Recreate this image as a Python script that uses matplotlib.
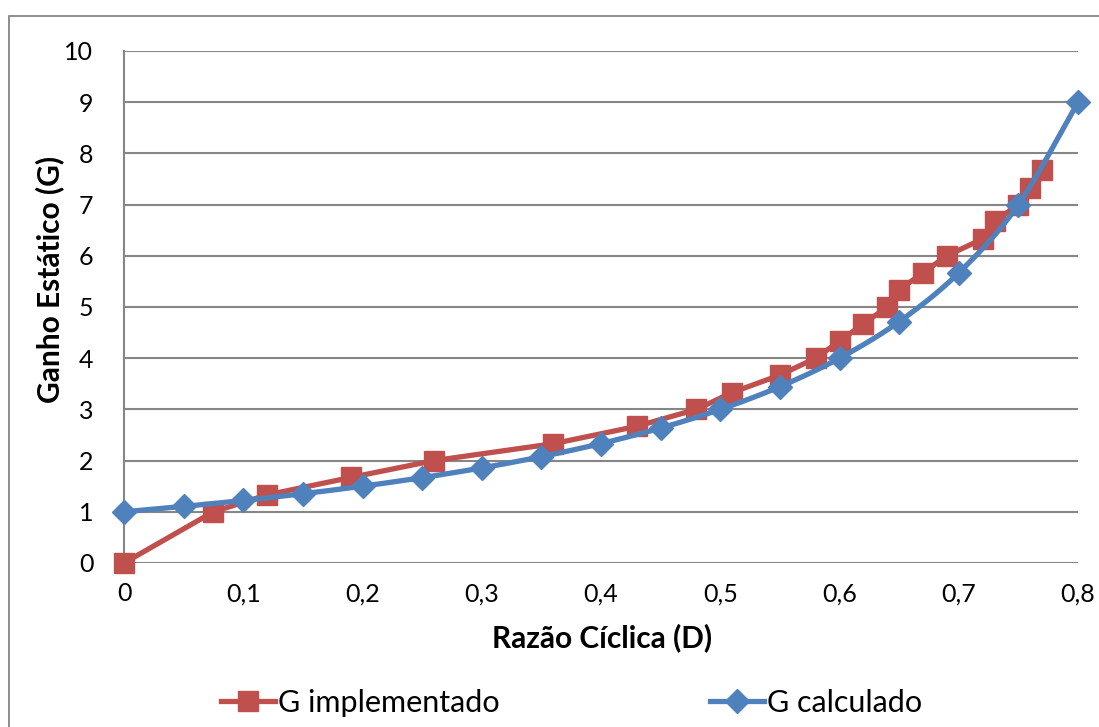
import numpy as np
import matplotlib.pyplot as plt
from matplotlib.lines import Line2D
from matplotlib.patches import Rectangle
from matplotlib.ticker import FuncFormatter

plt.rcParams['font.family'] = ['Lato', 'DejaVu Sans']

# G implementado (medido)
d_impl = [0, 0.075, 0.12, 0.19, 0.26, 0.36, 0.43, 0.48, 0.51, 0.55, 0.58,
          0.60, 0.62, 0.64, 0.65, 0.67, 0.69, 0.72, 0.73, 0.75, 0.76, 0.77]
g_impl = [0, 1, 1.33, 1.67, 2, 2.33, 2.67, 3, 3.33, 3.67, 4,
          4.33, 4.67, 5, 5.33, 5.67, 6, 6.33, 6.67, 7, 7.33, 7.67]

# G calculado
d_calc = [0, 0.05, 0.1, 0.15, 0.2, 0.25, 0.3, 0.35, 0.4, 0.45, 0.5,
          0.55, 0.6, 0.65, 0.7, 0.75, 0.8]
g_calc = [1, 1.105, 1.222, 1.353, 1.5, 1.667, 1.857, 2.077, 2.333, 2.636, 3,
          3.444, 4, 4.714, 5.667, 7, 9]

red = '#C0504D'
blue = '#4F81BD'
grid = '#868686'


# linha suavizada estilo Excel (Catmull-Rom)
def suavizar(x, y, n=25):
    p = np.column_stack([x, y]).astype(float)
    p = np.vstack([2 * p[0] - p[1], p, 2 * p[-1] - p[-2]])
    t = np.linspace(0, 1, n)[:, None]
    out = []
    for i in range(1, len(p) - 2):
        p0, p1, p2, p3 = p[i - 1], p[i], p[i + 1], p[i + 2]
        seg = 0.5 * ((2 * p1) + (-p0 + p2) * t + (2 * p0 - 5 * p1 + 4 * p2 - p3) * t ** 2
                     + (-p0 + 3 * p1 - 3 * p2 + p3) * t ** 3)
        out.append(seg)
    out = np.vstack(out)
    return out[:, 0], out[:, 1]


fig = plt.figure(figsize=(10.99, 7.27), dpi=100)
ax = fig.add_axes([124 / 1099, 1 - 563 / 727, (1078 - 124) / 1099, (563 - 51) / 727])

# moldura externa
fig.patches.append(Rectangle((9 / 1099, -0.1), 1.2, 1 - 16 / 727 + 0.1,
                             transform=fig.transFigure, fill=False,
                             edgecolor=grid, lw=1.3))

ax.plot(d_impl, g_impl, color=red, lw=3.8, marker='s', ms=14,
        mec=red, mfc=red, clip_on=False, zorder=3)
xs, ys = suavizar(d_calc, g_calc)
ax.plot(xs, ys, color=blue, lw=3.8, clip_on=False, zorder=4)
ax.plot(d_calc, g_calc, ls='none', marker='D', ms=12.5, color=blue,
        clip_on=False, zorder=5)

ax.set_xlim(0, 0.8)
ax.set_ylim(0, 10)
ax.set_xticks(np.arange(0, 0.81, 0.1))
ax.set_yticks(range(0, 11))
ax.xaxis.set_major_formatter(FuncFormatter(lambda v, p: '0' if v == 0 else f'{v:.1f}'.replace('.', ',')))
ax.yaxis.grid(True, color=grid, lw=1.5)
ax.set_axisbelow(True)
for s in ['top', 'right', 'bottom']:
    ax.spines[s].set_visible(False)
ax.spines['left'].set_color(grid)
ax.spines['left'].set_linewidth(1.5)
ax.tick_params(length=0, labelsize=18, pad=14)
ax.tick_params(axis='y', pad=22)

ax.set_xlabel('Razão Cíclica (D)', fontsize=21.5, fontweight='bold')
ax.set_ylabel('Ganho Estático (G)', fontsize=21.5, fontweight='bold')
ax.xaxis.set_label_coords(0.501, -0.118)
ax.yaxis.set_label_coords(-0.063, 0.553)

handles = [Line2D([], [], color=red, lw=3.8, marker='s', ms=14),
           Line2D([], [], color=blue, lw=3.8, marker='D', ms=12.5)]
fig.legend(handles, ['G implementado', 'G calculado'], loc='center',
           bbox_to_anchor=(0.52, 1 - 703 / 727), ncol=2, frameon=False,
           fontsize=22, handlelength=1.75, handletextpad=0.1, columnspacing=6.9)

fig.savefig('out.png', dpi=100)
